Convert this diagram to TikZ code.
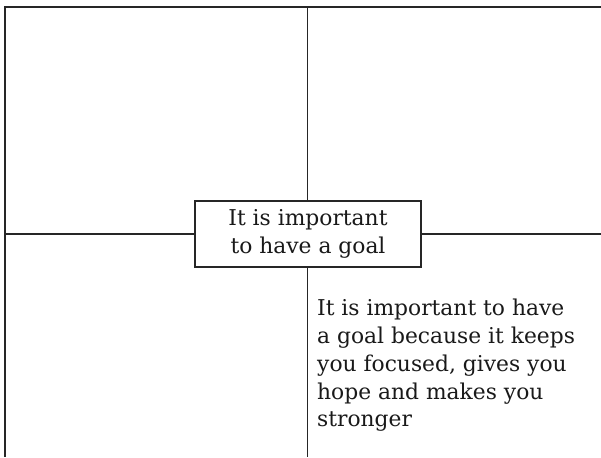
\documentclass[tikz,border=0pt]{standalone}
\usepackage{fontspec}
\setmainfont{DejaVu Serif}
\begin{document}
\begin{tikzpicture}[x=1pt,y=-1pt,
  frame/.style={draw=black!85, line width=1.3pt},
  txt/.style={text=black!90, font=\fontsize{21.8}{27.8}\selectfont, inner sep=0pt},
  centerbox/.style={draw=black!85, line width=1.3pt, fill=white, minimum width=226pt, minimum height=66pt, inner sep=0pt, txt}]
\useasboundingbox (0,0) rectangle (601,457);
\coordinate (tl) at (5,7);
\coordinate (tr) at (601,7);
\coordinate (bl) at (5,457);
\coordinate (tm) at (307.5,7);
\coordinate (bm) at (307.5,457);
\coordinate (ml) at (5,234);
\coordinate (mr) at (601,234);
\draw[frame] (tr) -- (tl) -- (bl);
\draw[frame] (tm) -- (bm);
\draw[frame] (ml) -- (mr);
\node[centerbox] (goal) at (308,234) {\raisebox{-3pt}{\parbox{220pt}{\centering It is important\\to have a goal}}};
\node[txt, anchor=north west, align=left] (reason) at (317,299) {It is important to have\\a goal because it keeps\\you focused, gives you\\hope and makes you\\stronger};
\end{tikzpicture}
\end{document}
